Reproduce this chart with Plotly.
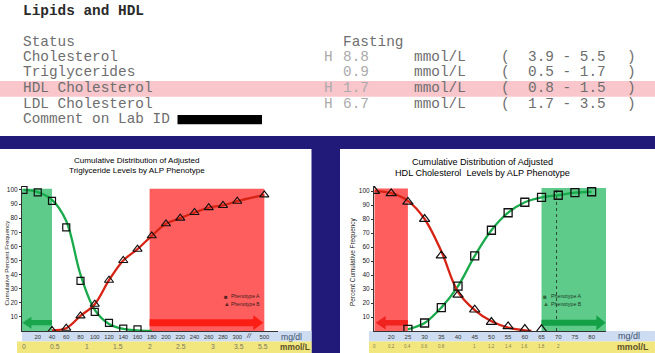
import plotly.graph_objects as go

W, H = 655, 353


def px(x):
    return x / W


def py(y):
    return 1 - y / H


MONO = "Liberation Mono, Courier New, monospace"
SANS = "Liberation Sans, Arial, sans-serif"
NAVY = "#211a78"

# ---------------- report text data ----------------
report_title = "Lipids and HDL"
status_label = "Status"
status_value = "Fasting"
test_names = ["Cholesterol", "Triglycerides", "HDL Cholesterol", "LDL Cholesterol"]
test_flags = ["H", "", "H", "H"]
test_values = ["8.8", "0.9", "1.7", "6.7"]
test_units = ["mmol/L", "mmol/L", "mmol/L", "mmol/L"]
ref_low = ["3.9", "0.5", "0.8", "1.7"]
ref_high = ["5.5", "1.7", "1.5", "3.5"]
comment_label = "Comment on Lab ID"
highlight_test = "HDL Cholesterol"

# ---------------- triglyceride chart data (mg/dl, cumulative %) ----------------
tg_title = ["Cumulative Distribution of Adjusted", "Triglyceride Levels by ALP Phenotype"]
tg_ytitle = "Cumulative Percent Frequency"
tg_mgdl_ticks = [20, 40, 60, 80, 100, 120, 140, 160, 180, 200, 220, 240, 260, 280, 300, 500]
tg_mmol_ticks = [0, 0.5, 1, 1.5, 2, 2.5, 3, 3.5, 5.5]
tg_a_x = [0, 20, 40, 60, 80, 100, 120, 140, 160]
tg_a_y = [100, 98.3, 92.2, 73.5, 35.5, 13.5, 5.7, 1.7, 1.2]
tg_a_curve_x = [0, 20, 40, 60, 80, 100, 120, 140, 160, 180]
tg_a_curve_y = [100, 98.5, 93, 78, 40, 15, 5, 1.5, 0.5, 0]
tg_b_x = [40, 60, 80, 100, 120, 140, 160, 180, 200, 220, 240, 260, 280, 300, 500]
tg_b_y = [0.5, 2, 10.7, 19, 36, 50, 58, 67.5, 76, 80, 84, 87.5, 89, 92, 96.5]
tg_desirable = [0, 40]
tg_high = [177, 500]
tg_break, tg_compress = 300, 0.19
mg_per_mmol_tg = 88.57

# ---------------- HDL chart data ----------------
hdl_title = ["Cumulative Distribution of Adjusted", "HDL Cholesterol  Levels by ALP Phenotype"]
hdl_ytitle = "Percent Cumulative Frequency"
hdl_mgdl_ticks = [20, 25, 30, 35, 40, 45, 50, 55, 60, 65, 70, 75, 80]
hdl_mmol_labels = ["0", "0.2", "0.4", "0.6", "0.8", "1", "1.2", "1.4", "1.6", "1.8", "2"]
hdl_mmol_at_mgdl = [15, 20, 25, 30, 35, 45, 50, 55, 60, 65, 70]
hdl_a_x = [25, 30, 35, 40, 45, 50, 55, 60, 65, 70, 75, 80]
hdl_a_y = [1.2, 5.7, 16.7, 32, 53.7, 72, 84.5, 92, 95.5, 97, 98.8, 99.5]
hdl_b_x = [15, 20, 25, 30, 35, 40, 45, 50, 55, 60, 65]
hdl_b_y = [100, 98.3, 92.2, 80, 53.8, 25.8, 15.2, 6.4, 3.3, 1.4, 1.2]
hdl_b_curve_x = [15, 20, 25, 30, 35, 40, 45, 50, 55, 60, 62]
hdl_b_curve_y = [100, 98.5, 93, 80, 57, 28, 15, 7, 2.5, 0.5, 0]
hdl_low = [15, 25]
hdl_good = [65, 84.5]
patient_hdl_mgdl = 69.5

legend_names = ["Phenotype A", "Phenotype B"]


def tg_disp(v):
    return v if v <= tg_break else tg_break + (v - tg_break) * tg_compress


# axis geometry
TG_XR = [-2.1, 357.2]
TG_YR = [0, 102.8]
HDL_XR = [14.85, 84.3]
HDL_YR = [0, 103.6]
TG_SX, TG_SY = 256 / (TG_XR[1] - TG_XR[0]), 145 / TG_YR[1]
HDL_SX, HDL_SY = 232 / (HDL_XR[1] - HDL_XR[0]), 145 / HDL_YR[1]

shapes = []
ann = []


def rect(x0, y0, x1, y1, color):
    shapes.append(dict(type="rect", xref="paper", yref="paper", x0=px(x0), x1=px(x1),
                       y0=py(y1), y1=py(y0), fillcolor=color, line=dict(width=0), layer="below"))


def text(x, y, s, size, color, family=SANS, xanchor="left", angle=0, xref="paper"):
    ann.append(dict(xref=xref, yref="paper", x=(px(x) if xref == "paper" else x), y=py(y), text=s,
                    showarrow=False, xanchor=xanchor, yanchor="middle", textangle=angle,
                    borderpad=0, font=dict(size=size, color=color, family=family)))


def arrow(xr, yr, x_from, x_tip, yc, sx, sy, shaft_px, head_px, headlen_px, color):
    d = 1 if x_tip > x_from else -1
    hl = headlen_px / sx
    sh = shaft_px / 2 / sy
    hh = head_px / 2 / sy
    xb = x_tip - d * hl
    path = (f"M{x_from},{yc - sh} L{xb},{yc - sh} L{xb},{yc - hh} L{x_tip},{yc} "
            f"L{xb},{yc + hh} L{xb},{yc + sh} L{x_from},{yc + sh} Z")
    shapes.append(dict(type="path", xref=xr, yref=yr, path=path, fillcolor=color,
                       line=dict(width=0), layer="below"))


# ---------------- background panels ----------------
rect(0, 0, 655, 136, "white")
rect(0, 81, 655, 96.7, "#f8c6cb")
rect(0, 136, 655, 353, NAVY)
rect(0, 149, 311.5, 353, "white")
rect(340, 149, 655, 353, "white")
rect(22, 331, 311.5, 341.5, "#cddcf0")
rect(17, 341.5, 311.5, 353, "#f1e77e")
rect(369, 331, 655, 341.5, "#cddcf0")
rect(369, 341.5, 655, 353, "#f1e77e")
rect(177.5, 115, 262, 124.3, "black")

# ---------------- report text ----------------
NAME_C = "#6e6e6e"
FAINT_C = "#ababab"
text(22, 11, "<b>" + report_title + "</b>", 14.4, "#2a2a2a", MONO)
text(22, 42, status_label, 14.4, NAME_C, MONO)
text(342, 42.5, status_value, 14.4, NAME_C, MONO)
row_y = [57.3, 72, 88.3, 104]
for i, name in enumerate(test_names):
    y = row_y[i]
    text(22, y, name, 14.4, NAME_C, MONO)
    if test_flags[i]:
        text(323, y, test_flags[i], 14.4, FAINT_C, MONO)
    text(341.5, y, test_values[i], 14.4, FAINT_C, MONO)
    text(412.5, y, test_units[i], 14.4, NAME_C, MONO)
    text(500, y, "(", 14.4, NAME_C, MONO)
    text(527, y, f"{ref_low[i]} - {ref_high[i]}", 14.4, NAME_C, MONO)
    text(626, y, ")", 14.4, NAME_C, MONO)
text(22, 119.5, comment_label, 14.4, NAME_C, MONO)

# ---------------- triglyceride chart ----------------
shapes.append(dict(type="rect", xref="x", yref="y", x0=TG_XR[0], x1=tg_desirable[1], y0=0, y1=100.8,
                   fillcolor="rgb(94,203,139)", line=dict(width=0), layer="below"))
shapes.append(dict(type="rect", xref="x", yref="y", x0=tg_disp(tg_high[0]), x1=tg_disp(tg_high[1]),
                   y0=0, y1=100.8, fillcolor="rgb(255,94,94)", line=dict(width=0), layer="below"))
arrow("x", "y", tg_desirable[1], TG_XR[0] + 0.6, 5.9, TG_SX, TG_SY, 5.3, 12, 9, "rgb(25,165,75)")
arrow("x", "y", tg_disp(tg_high[0]), tg_disp(tg_high[1]) - 1.5, 5.9, TG_SX, TG_SY, 7, 15, 10, "rgb(250,30,20)")

GREEN = "rgb(25,170,75)"
RED = "rgb(215,35,20)"

fig = go.Figure()
fig.add_trace(go.Scatter(x=[tg_disp(v) for v in tg_a_curve_x], y=tg_a_curve_y, mode="lines",
                         line=dict(color=GREEN, width=2.3, shape="spline", smoothing=1),
                         xaxis="x", yaxis="y", showlegend=False, hoverinfo="skip"))
fig.add_trace(go.Scatter(x=[tg_disp(v) for v in tg_b_x], y=tg_b_y, mode="lines",
                         line=dict(color=RED, width=2.3, shape="spline", smoothing=1),
                         xaxis="x", yaxis="y", showlegend=False, hoverinfo="skip"))
fig.add_trace(go.Scatter(x=[tg_disp(v) for v in tg_a_x], y=tg_a_y, mode="markers", name=legend_names[0],
                         marker=dict(symbol="square-open", size=7, color="#111", line=dict(width=1.2)),
                         xaxis="x", yaxis="y", showlegend=False))
fig.add_trace(go.Scatter(x=[tg_disp(v) for v in tg_b_x], y=tg_b_y, mode="markers", name=legend_names[1],
                         marker=dict(symbol="triangle-up-open", size=8, color="#111", line=dict(width=1.1)),
                         xaxis="x", yaxis="y", showlegend=False))

# ---------------- HDL chart ----------------
shapes.append(dict(type="rect", xref="x2", yref="y2", x0=hdl_low[0], x1=hdl_low[1], y0=0, y1=101.8,
                   fillcolor="rgb(255,94,94)", line=dict(width=0), layer="below"))
shapes.append(dict(type="rect", xref="x2", yref="y2", x0=hdl_good[0], x1=hdl_good[1], y0=0, y1=102.2,
                   fillcolor="rgb(94,203,139)", line=dict(width=0), layer="below"))
shapes.append(dict(type="line", xref="x2", yref="y2", x0=patient_hdl_mgdl, x1=patient_hdl_mgdl, y0=0, y1=102.2,
                   line=dict(color="#2d4a35", width=1, dash="dot"), layer="below"))
arrow("x2", "y2", hdl_low[1], hdl_low[0] + 0.35, 5.9, HDL_SX, HDL_SY, 5.7, 13.7, 10, "rgb(240,35,30)")
arrow("x2", "y2", hdl_good[0], HDL_XR[1] - 0.1, 5.9, HDL_SX, HDL_SY, 6, 15, 9.3, "rgb(20,160,70)")

fig.add_trace(go.Scatter(x=hdl_a_x, y=hdl_a_y, mode="lines",
                         line=dict(color=GREEN, width=2.3, shape="spline", smoothing=1),
                         xaxis="x2", yaxis="y2", showlegend=False, hoverinfo="skip"))
fig.add_trace(go.Scatter(x=hdl_b_curve_x, y=hdl_b_curve_y, mode="lines",
                         line=dict(color=RED, width=2.3, shape="spline", smoothing=1),
                         xaxis="x2", yaxis="y2", showlegend=False, hoverinfo="skip"))
fig.add_trace(go.Scatter(x=hdl_a_x, y=hdl_a_y, mode="markers", name=legend_names[0],
                         marker=dict(symbol="square-open", size=8, color="#111", line=dict(width=1.3)),
                         xaxis="x2", yaxis="y2", showlegend=False))
fig.add_trace(go.Scatter(x=hdl_b_x, y=hdl_b_y, mode="markers", name=legend_names[1],
                         marker=dict(symbol="triangle-up-open", size=9, color="#111", line=dict(width=1.2)),
                         xaxis="x2", yaxis="y2", showlegend=False))

# ---------------- chart texts ----------------
text(137, 161, tg_title[0], 8.1, "#000", xanchor="center")
text(137, 170.3, tg_title[1], 8.1, "#000", xanchor="center")
text(482, 162.3, hdl_title[0], 9.1, "#000", xanchor="center")
text(482, 173, hdl_title[1], 9.1, "#000", xanchor="center")
text(5.5, 263, tg_ytitle, 6.2, "#222", xanchor="center", angle=-90)
text(353, 262, hdl_ytitle, 6.4, "#222", xanchor="center", angle=-90)

# axis break mark
text((tg_break + tg_disp(tg_high[1])) / 2 - 3, 335, "<i>//</i>", 7, "#333", xanchor="center", xref="x")

# mmol/L labels
for v in tg_mmol_ticks:
    lab = ("%g" % v)
    text(tg_disp(v * mg_per_mmol_tg), 346.8, lab, 6.8, "#7d7760", xanchor="center", xref="x")
for lab, pos in zip(hdl_mmol_labels, hdl_mmol_at_mgdl):
    text(pos, 346.3, lab, 4.6, "#8a7f50", xanchor="center", xref="x2")

text(280, 336.7, "mg/dl", 8.6, "#42506e")
text(279, 347, "<b>mmol/L</b>", 8.4, "#5e5328")
text(617, 335.5, "mg/dl", 9, "#42506e")
text(616, 346.5, "<b>mmol/L</b>", 8.8, "#5e5328")

# legends
text(223, 296.3, "■", 6.2, "#5a2323")
text(229.5, 296.3, legend_names[0], 5, "#3b1c1c")
text(223, 303.8, "▲", 5.8, "#5a2323")
text(229.5, 303.8, legend_names[1], 5, "#3b1c1c")
text(542, 296.3, "■", 6.5, "#2f6a3c")
text(549.5, 296.3, legend_names[0], 5.3, "#1f3a26")
text(542, 303.6, "▲", 6, "#2f6a3c")
text(549.5, 303.6, legend_names[1], 5.3, "#1f3a26")

common = dict(showgrid=False, zeroline=False, showline=True, linecolor="#333", linewidth=1, fixedrange=True)

fig.update_layout(
    width=W, height=H, margin=dict(l=0, r=0, t=0, b=0),
    paper_bgcolor="white", plot_bgcolor="rgba(0,0,0,0)",
    showlegend=False,
    xaxis=dict(domain=[px(22), px(278)], range=TG_XR, anchor="y", tickmode="array",
               tickvals=[tg_disp(v) for v in tg_mgdl_ticks], ticktext=[str(v) for v in tg_mgdl_ticks],
               ticks="", tickfont=dict(size=5.8, color="#333", family=SANS), **common),
    yaxis=dict(domain=[py(331), py(186)], range=TG_YR, anchor="x", tickmode="array",
               tickvals=list(range(10, 101, 10)), ticks="outside", ticklen=2, tickcolor="#333",
               tickfont=dict(size=6.5, color="#222", family=SANS), **common),
    xaxis2=dict(domain=[px(374), px(606)], range=HDL_XR, anchor="y2", tickmode="array",
                tickvals=hdl_mgdl_ticks, ticktext=[str(v) for v in hdl_mgdl_ticks],
                ticks="", tickfont=dict(size=6, color="#333", family=SANS), **common),
    yaxis2=dict(domain=[py(331), py(186)], range=HDL_YR, anchor="x2", tickmode="array",
                tickvals=list(range(10, 101, 10)), ticks="outside", ticklen=2, tickcolor="#333",
                tickfont=dict(size=6.5, color="#222", family=SANS), **common),
    shapes=shapes,
    annotations=ann,
)

fig.write_html("out.html", include_plotlyjs=True, config={"displayModeBar": False})
